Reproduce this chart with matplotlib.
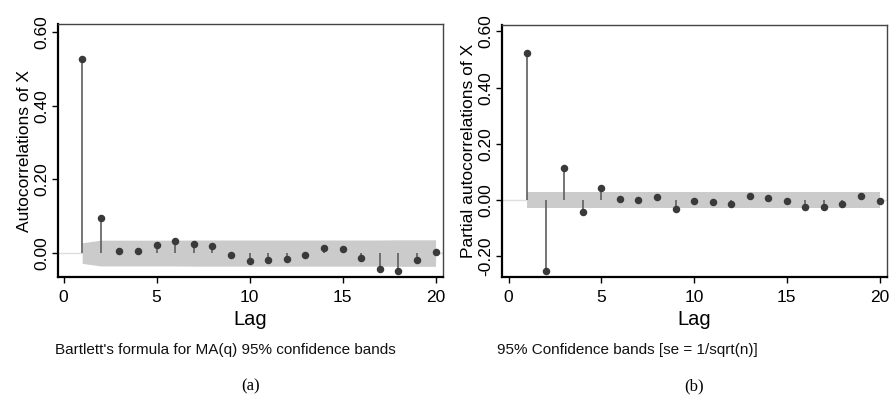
import matplotlib
matplotlib.use("Agg")
import matplotlib.pyplot as plt
import numpy as np

lags = list(range(1, 21))
acf_vals = [0.526, 0.094, 0.006, 0.005, 0.022, 0.033, 0.024, 0.019, -0.006, -0.022,
            -0.019, -0.017, -0.005, 0.014, 0.011, -0.014, -0.043, -0.049, -0.019, 0.003]
acf_band = [0.028, 0.035, 0.035, 0.035, 0.035, 0.035, 0.0355, 0.0355, 0.0355, 0.0355,
            0.0355, 0.0355, 0.0355, 0.0355, 0.0355, 0.0355, 0.0355, 0.036, 0.036, 0.036]
pacf_vals = [0.524, -0.253, 0.113, -0.044, 0.042, 0.002, 0.000, 0.012, -0.032, -0.004,
             -0.006, -0.014, 0.014, 0.008, -0.005, -0.026, -0.026, -0.014, 0.015, -0.002]
pacf_band = [0.029] * 20

xticks = [0, 5, 10, 15, 20]
yticks_a = [0.0, 0.2, 0.4, 0.6]
yticks_b = [-0.2, 0.0, 0.2, 0.4, 0.6]

SANS = ['Liberation Sans', 'DejaVu Sans']
SERIF = ['Liberation Serif', 'DejaVu Serif']

W, H = 891, 401
fig = plt.figure(figsize=(W / 100, H / 100), dpi=100)


def make_panel(rect, vals, band, yticks, ylim, xlim, ylabel, note, tag, note_x):
    l, t, r, b = rect
    ax = fig.add_axes([l / W, 1 - b / H, (r - l) / W, (b - t) / H])
    ax.set_xlim(*xlim)
    ax.set_ylim(*ylim)
    ax.axhline(0, color='#dedede', lw=1.0, zorder=1)
    lo = [-v for v in band]
    ax.fill_between(lags, lo, band, color='#cbcbcb', lw=0, zorder=2)
    ax.vlines(lags, 0, vals, color='#5e5e5e', lw=1.2, zorder=3)
    ax.plot(lags, vals, 'o', color='#3a3a3a', ms=4.4, zorder=4)
    ax.set_xticks(xticks)
    ax.set_yticks(yticks)
    ax.set_xticklabels([str(v) for v in xticks], family=SANS, fontsize=12.5)
    ax.set_yticklabels(['%.2f' % v for v in yticks], family=SANS, fontsize=12.5,
                       rotation=90, va='center')
    ax.tick_params(direction='out', length=4, width=1.0, colors='black')
    ax.tick_params(axis='x', pad=5)
    ax.tick_params(axis='y', pad=2)
    for s in ['left', 'bottom']:
        ax.spines[s].set_color('black')
        ax.spines[s].set_linewidth(1.6)
    for s in ['top', 'right']:
        ax.spines[s].set_color('#444444')
        ax.spines[s].set_linewidth(1.0)
    ax.set_ylabel(ylabel, family=SANS, fontsize=12.5, labelpad=2)
    ax.set_xlabel('Lag', family=SANS, fontsize=14.5, labelpad=4)
    cx = (l + r) / 2
    fig.text(note_x / W, 1 - 350 / H, note, family=SANS, fontsize=11,
             ha='left', va='center', color='#111111')
    fig.text(cx / W, 1 - 386 / H, tag, family=SERIF, fontsize=12,
             ha='center', va='center')
    return ax


make_panel((58, 24, 443, 277), acf_vals, acf_band, yticks_a, (-0.065, 0.622), (-0.3, 20.4),
           'Autocorrelations of X', "Bartlett's formula for MA(q) 95% confidence bands", '(a)', 55)
make_panel((502, 25, 887, 277), pacf_vals, pacf_band, yticks_b, (-0.274, 0.623), (-0.36, 20.4),
           'Partial autocorrelations of X', '95% Confidence bands [se = 1/sqrt(n)]', '(b)', 497)

fig.savefig('out.png', dpi=100)
